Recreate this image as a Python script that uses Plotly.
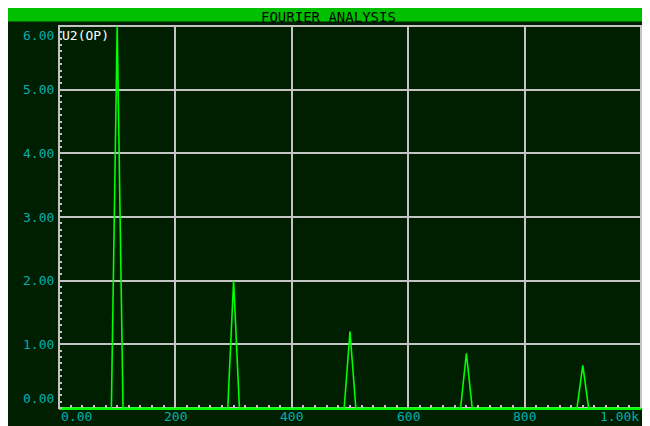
import plotly.graph_objects as go

# Data (Fourier spectrum, harmonics of a 100 Hz square wave)
freq_hz = [0, 90, 100, 110, 290, 300, 310, 490, 500, 510, 690, 700, 710, 890, 900, 910, 1000]
magnitude = [0, 0, 6.0, 0, 0, 2.0, 0, 0, 1.2, 0, 0, 0.86, 0, 0, 0.67, 0, 0]

x_tick_vals = [0, 200, 400, 600, 800, 1000]
x_tick_text = ["0.00", "200", "400", "600", "800", "1.00k"]
y_tick_vals = [0, 1, 2, 3, 4, 5, 6]
y_tick_text = ["0.00", "1.00", "2.00", "3.00", "4.00", "5.00", "6.00"]

title_text = "FOURIER ANALYSIS"
trace_label = "U2(OP)"

BG = "#001f00"
GRID = "#c4c4c4"
TRACE = "#00ff00"
BAR = "#00c000"
TICKTXT = "#00b0b0"
FONT = "DejaVu Sans Mono"

W, H = 640, 420
ml, mr, mt, mb = 51, 7, 18, 20
pw, ph = W - ml - mr, H - mt - mb

fig = go.Figure()
fig.add_trace(go.Scatter(x=freq_hz, y=magnitude, mode="lines",
                         line=dict(color=TRACE, width=1.6), hoverinfo="skip"))

shapes = [
    # title bar
    dict(type="rect", xref="paper", yref="paper", layer="below",
         x0=-ml / pw, x1=(W - ml) / pw, y0=(H - mb - 13.5) / ph, y1=(H - mb + 2) / ph,
         fillcolor=BAR, line=dict(width=0)),
    # plot border
    dict(type="rect", xref="paper", yref="paper", layer="below",
         x0=0, x1=1, y0=0, y1=1, line=dict(color=GRID, width=2)),
]

annotations = []
for i, (v, t) in enumerate(zip(x_tick_vals, x_tick_text)):
    anchor = "left" if i == 0 else ("right" if i == len(x_tick_vals) - 1 else "center")
    annotations.append(dict(x=v, xref="x", y=0, yref="paper", yanchor="top", xanchor=anchor,
                            yshift=1, text=t, showarrow=False,
                            font=dict(family=FONT, size=13, color=TICKTXT)))
for i, (v, t) in enumerate(zip(y_tick_vals, y_tick_text)):
    if i == 0:
        ya = "bottom"
    elif i == len(y_tick_vals) - 1:
        ya = "top"
    else:
        ya = "middle"
    annotations.append(dict(x=0, xref="paper", y=v, yref="y", xanchor="right", yanchor=ya,
                            xshift=-3, text=t, showarrow=False,
                            font=dict(family=FONT, size=13, color=TICKTXT)))
annotations.append(dict(x=0, xref="paper", y=1, yref="paper", xanchor="left", yanchor="top",
                        xshift=1, yshift=0, text=trace_label, showarrow=False,
                        font=dict(family=FONT, size=13, color="white")))
# title as a centred annotation inside the green bar
annotations.append(dict(x=(W / 2 - ml) / pw, xref="paper", y=(ph + mt) / ph, yref="paper",
                        xanchor="center", yanchor="top", text=title_text, showarrow=False,
                        borderpad=0, font=dict(family=FONT, size=14, color="black")))

fig.update_layout(
    width=W, height=H,
    margin=dict(l=ml, r=mr, t=mt, b=mb),
    paper_bgcolor=BG, plot_bgcolor=BG,
    showlegend=False,
    shapes=shapes, annotations=annotations,
    xaxis=dict(range=[0, 1000], tickvals=x_tick_vals, showticklabels=False, ticks="",
               showgrid=True, gridcolor=GRID, gridwidth=2, zeroline=False,
               showline=True, linecolor=TRACE, linewidth=2, mirror=False,
               minor=dict(dtick=20, ticks="inside", ticklen=3, tickwidth=2, tickcolor=GRID, showgrid=False)),
    yaxis=dict(range=[0, 6], tickvals=y_tick_vals, showticklabels=False, ticks="",
               showgrid=True, gridcolor=GRID, gridwidth=2, zeroline=False,
               showline=False,
               minor=dict(dtick=0.1, ticks="inside", ticklen=3, tickwidth=2, tickcolor=GRID, showgrid=False)),
)

fig.write_html("out.html")
